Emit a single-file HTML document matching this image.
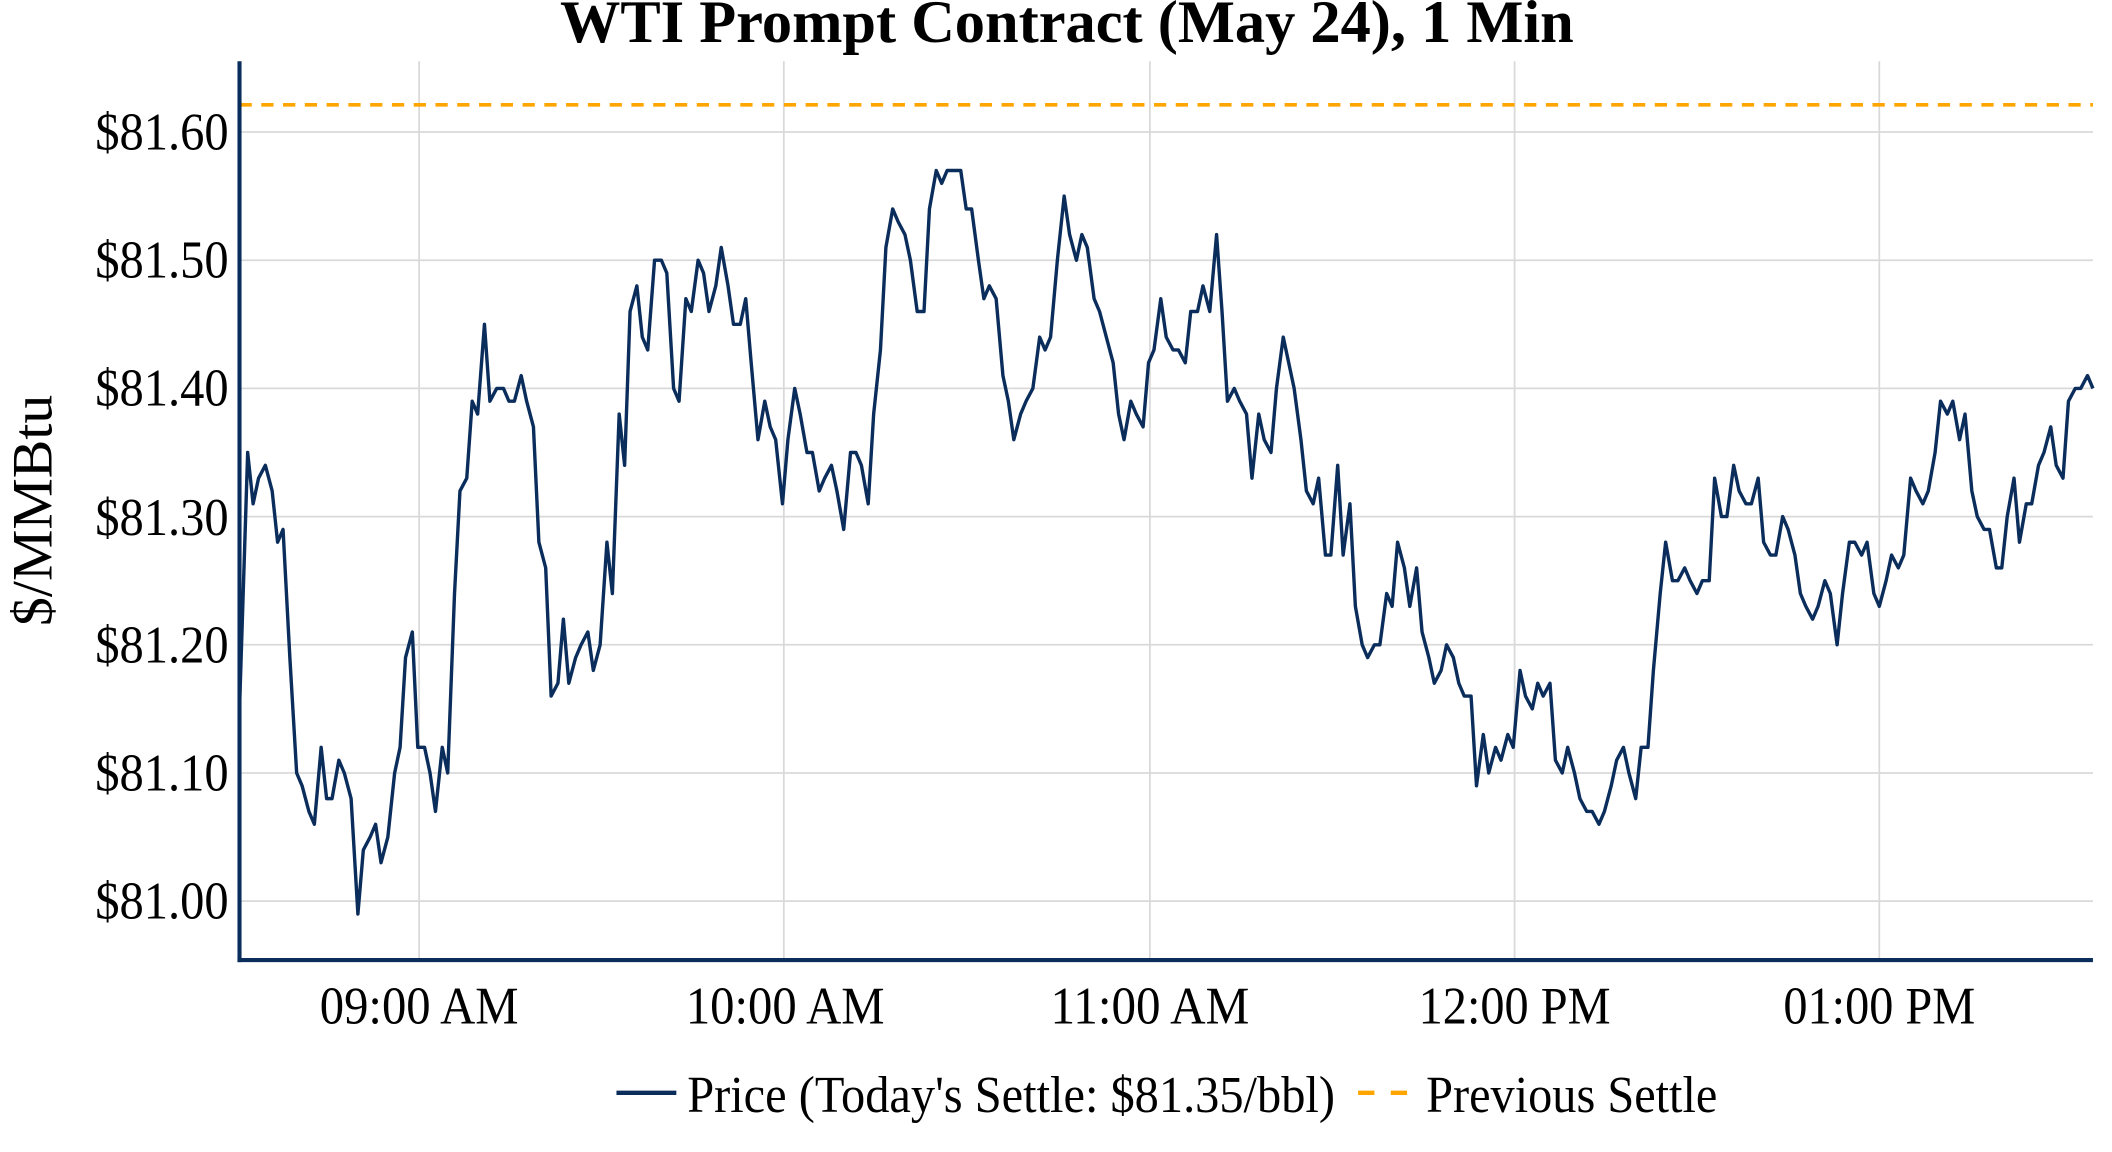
<!DOCTYPE html>
<html><head><meta charset="utf-8"><style>
html,body{margin:0;padding:0;background:#fff;}
svg{display:block;}
text{font-family:"Liberation Serif",serif;fill:#000;}
</style></head><body>
<svg width="2112" height="1152" viewBox="0 0 1552 846.5" xmlns="http://www.w3.org/2000/svg">
<rect width="1552" height="846.5" fill="#fff"/>
<g stroke="#d9d9d9" stroke-width="1.3">
<line x1="308" y1="45" x2="308" y2="705"/>
<line x1="576" y1="45" x2="576" y2="705"/>
<line x1="845" y1="45" x2="845" y2="705"/>
<line x1="1113" y1="45" x2="1113" y2="705"/>
<line x1="1381" y1="45" x2="1381" y2="705"/>
<line x1="176" y1="97" x2="1538" y2="97"/>
<line x1="176" y1="191.2" x2="1538" y2="191.2"/>
<line x1="176" y1="285.4" x2="1538" y2="285.4"/>
<line x1="176" y1="379.6" x2="1538" y2="379.6"/>
<line x1="176" y1="473.8" x2="1538" y2="473.8"/>
<line x1="176" y1="568" x2="1538" y2="568"/>
<line x1="176" y1="662.2" x2="1538" y2="662.2"/>
</g>
<line x1="176" y1="77" x2="1538" y2="77" stroke="#ffa500" stroke-width="2.7" stroke-dasharray="9,7"/>
<g transform="translate(0,97) scale(1,9.42)">
<polyline fill="none" stroke="#0a2d5c" stroke-width="3.4" vector-effect="non-scaling-stroke" stroke-linejoin="round" points="
176,45 182,25 186,29 190,27 195,26 200,28 204,32 208,31 213,41 218,50 222,51 227,53 231,54 236,48 240,52 244,52 249,49 253,50 258,52 263,61 267,56 272,55 276,54 280,57 285,55 290,50 294,48 298,41 303,39 307,48 312,48 316,50 320,53 325,48 329,50 334,36 338,28 343,27 347,21 351,22 356,15 360,21 365,20 370,20 374,21 378,21 383,19 387,21 392,23 396,32 401,34 405,44 410,43 414,38 418,43 423,41 427,40 432,39 436,42 441,40 446,32 450,36 455,22 459,26 463,14 468,12 472,16 476,17 481,10 486,10 490,11 495,20 499,21 504,13 508,14 513,10 517,11 521,14 526,12 530,9 535,12 539,15 544,15 548,13 552,18 557,24 562,21 566,23 570,24 575,29 579,24 584,20 588,22 593,25 597,25 602,28 606,27 611,26 615,28 620,31 625,25 629,25 633,26 638,29 642,22 647,17 651,9 656,6 660,7 665,8 669,10 674,14 679,14 683,6 688,3 692,4 696,3 701,3 706,3 710,6 714,6 719,10 723,13 727,12 732,13 737,19 741,21 745,24 750,22 754,21 759,20 764,16 768,17 772,16 777,10 782,5 786,8 791,10 795,8 799,9 804,13 808,14 813,16 818,18 822,22 826,24 831,21 835,22 840,23 844,18 848,17 853,13 857,16 862,17 866,17 871,18 875,14 880,14 884,12 889,14 894,8 898,14 902,21 907,20 911,21 916,22 920,27 925,22 929,24 934,25 938,20 943,16 947,18 951,20 956,24 960,28 965,29 969,27 974,33 978,33 983,26 987,33 992,29 996,37 1001,40 1005,41 1010,40 1014,40 1019,36 1023,37 1027,32 1032,34 1036,37 1041,34 1045,39 1050,41 1054,43 1059,42 1063,40 1068,41 1072,43 1076,44 1081,44 1085,51 1090,47 1094,50 1099,48 1103,49 1108,47 1112,48 1117,42 1121,44 1126,45 1130,43 1134,44 1139,43 1143,49 1148,50 1152,48 1157,50 1161,52 1166,53 1170,53 1175,54 1179,53 1184,51 1188,49 1193,48 1197,50 1202,52 1206,48 1211,48 1215,42 1220,36 1224,32 1229,35 1233,35 1238,34 1242,35 1247,36 1251,35 1256,35 1260,27 1265,30 1269,30 1274,26 1278,28 1283,29 1287,29 1292,27 1296,32 1301,33 1305,33 1310,30 1314,31 1319,33 1323,36 1327,37 1332,38 1336,37 1341,35 1345,36 1350,40 1354,36 1359,32 1363,32 1368,33 1372,32 1377,36 1381,37 1386,35 1390,33 1395,34 1399,33 1404,27 1408,28 1413,29 1417,28 1422,25 1426,21 1431,22 1435,21 1440,24 1444,22 1449,28 1453,30 1458,31 1462,31 1467,34 1471,34 1475,30 1480,27 1484,32 1489,29 1493,29 1498,26 1502,25 1507,23 1511,26 1516,27 1520,21 1525,20 1529,20 1534,19 1538,20"/>
</g>
<line x1="176" y1="45" x2="176" y2="707" stroke="#0a2d5c" stroke-width="3"/>
<line x1="174.5" y1="705.5" x2="1538" y2="705.5" stroke="#0a2d5c" stroke-width="3"/>
<g font-size="39" text-anchor="end">
<text x="168" y="110" textLength="98" lengthAdjust="spacingAndGlyphs">$81.60</text>
<text x="168" y="204" textLength="98" lengthAdjust="spacingAndGlyphs">$81.50</text>
<text x="168" y="298" textLength="98" lengthAdjust="spacingAndGlyphs">$81.40</text>
<text x="168" y="393" textLength="98" lengthAdjust="spacingAndGlyphs">$81.30</text>
<text x="168" y="487" textLength="98" lengthAdjust="spacingAndGlyphs">$81.20</text>
<text x="168" y="581" textLength="98" lengthAdjust="spacingAndGlyphs">$81.10</text>
<text x="168" y="675" textLength="98" lengthAdjust="spacingAndGlyphs">$81.00</text>
</g>
<g font-size="39" text-anchor="middle">
<text x="308" y="752" textLength="146" lengthAdjust="spacingAndGlyphs">09:00 AM</text>
<text x="577" y="752" textLength="146" lengthAdjust="spacingAndGlyphs">10:00 AM</text>
<text x="845" y="752" textLength="146" lengthAdjust="spacingAndGlyphs">11:00 AM</text>
<text x="1113" y="752" textLength="141" lengthAdjust="spacingAndGlyphs">12:00 PM</text>
<text x="1381" y="752" textLength="141" lengthAdjust="spacingAndGlyphs">01:00 PM</text>
</g>
<text font-size="42" text-anchor="middle" transform="translate(38,375) rotate(-90)" textLength="170" lengthAdjust="spacingAndGlyphs">$/MMBtu</text>
<text x="784" y="31" font-size="44" font-weight="bold" text-anchor="middle" textLength="745" lengthAdjust="spacingAndGlyphs">WTI Prompt Contract (May 24), 1 Min</text>
<line x1="453" y1="803" x2="497" y2="803" stroke="#0a2d5c" stroke-width="3.2"/>
<text x="505" y="817" font-size="38" textLength="476" lengthAdjust="spacingAndGlyphs">Price (Today's Settle: $81.35/bbl)</text>
<line x1="998" y1="803" x2="1040" y2="803" stroke="#ffa500" stroke-width="3.2" stroke-dasharray="12,12"/>
<text x="1048" y="817" font-size="38" textLength="214" lengthAdjust="spacingAndGlyphs">Previous Settle</text>
</svg>
</body></html>
